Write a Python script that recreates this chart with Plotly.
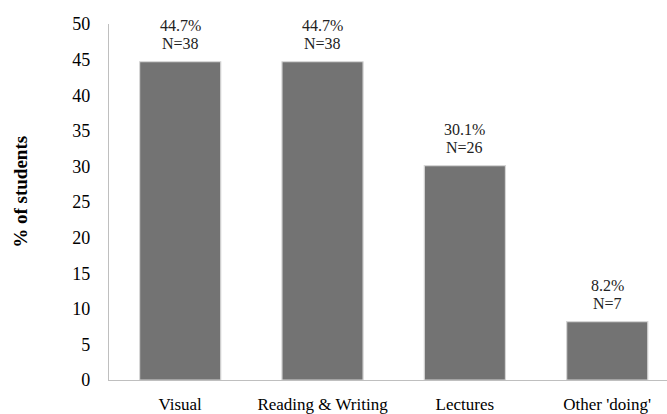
import plotly.graph_objects as go

categories = ["Visual", "Reading &amp; Writing", "Lectures", "Other 'doing'"]
percent = [44.7, 44.7, 30.1, 8.2]
counts = [38, 38, 26, 7]
y_ticks = [0, 5, 10, 15, 20, 25, 30, 35, 40, 45, 50]

serif = "'Times New Roman', 'Liberation Serif', 'DejaVu Serif', serif"
x_idx = list(range(len(categories)))

fig = go.Figure(
    go.Bar(
        x=x_idx,
        y=percent,
        width=0.57,
        marker=dict(color="#737373", line=dict(color="#d6d6d6", width=1.2)),
        hoverinfo="skip",
    )
)

# value labels above each bar: percentage line over the count line
for i, (p, n) in enumerate(zip(percent, counts)):
    fig.add_annotation(
        x=i, y=p, text=f"N={n}", showarrow=False,
        yanchor="bottom", yshift=8,
        font=dict(family=serif, size=16, color="#222222"),
    )
    fig.add_annotation(
        x=i, y=p, text=f"{p}%", showarrow=False,
        yanchor="bottom", yshift=26,
        font=dict(family=serif, size=16, color="#222222"),
    )

# rotated axis title
fig.add_annotation(
    xref="paper", yref="paper", x=-0.16, y=0.528,
    text="<b>% of students</b>", textangle=-90, showarrow=False,
    xanchor="center", yanchor="middle",
    font=dict(family=serif, size=19, color="#000000"),
)

fig.update_layout(
    width=667, height=414,
    margin=dict(l=109, r=0, t=24, b=34),
    plot_bgcolor="white", paper_bgcolor="white",
    showlegend=False,
    font=dict(family=serif),
    xaxis=dict(
        range=[-0.5, 3.42], tickvals=x_idx, ticktext=categories,
        showline=True, linecolor="#bfbfbf", linewidth=1.3,
        showgrid=False, zeroline=False, ticks="", ticklabelstandoff=8,
        tickfont=dict(family=serif, size=17, color="#000000"),
    ),
    yaxis=dict(
        range=[0, 50], tickvals=y_ticks,
        showline=True, linecolor="#bfbfbf", linewidth=1.3,
        showgrid=False, zeroline=False, ticks="", ticklabelstandoff=14,
        tickfont=dict(family=serif, size=18, color="#000000"),
    ),
)

fig.write_html("out.html")
